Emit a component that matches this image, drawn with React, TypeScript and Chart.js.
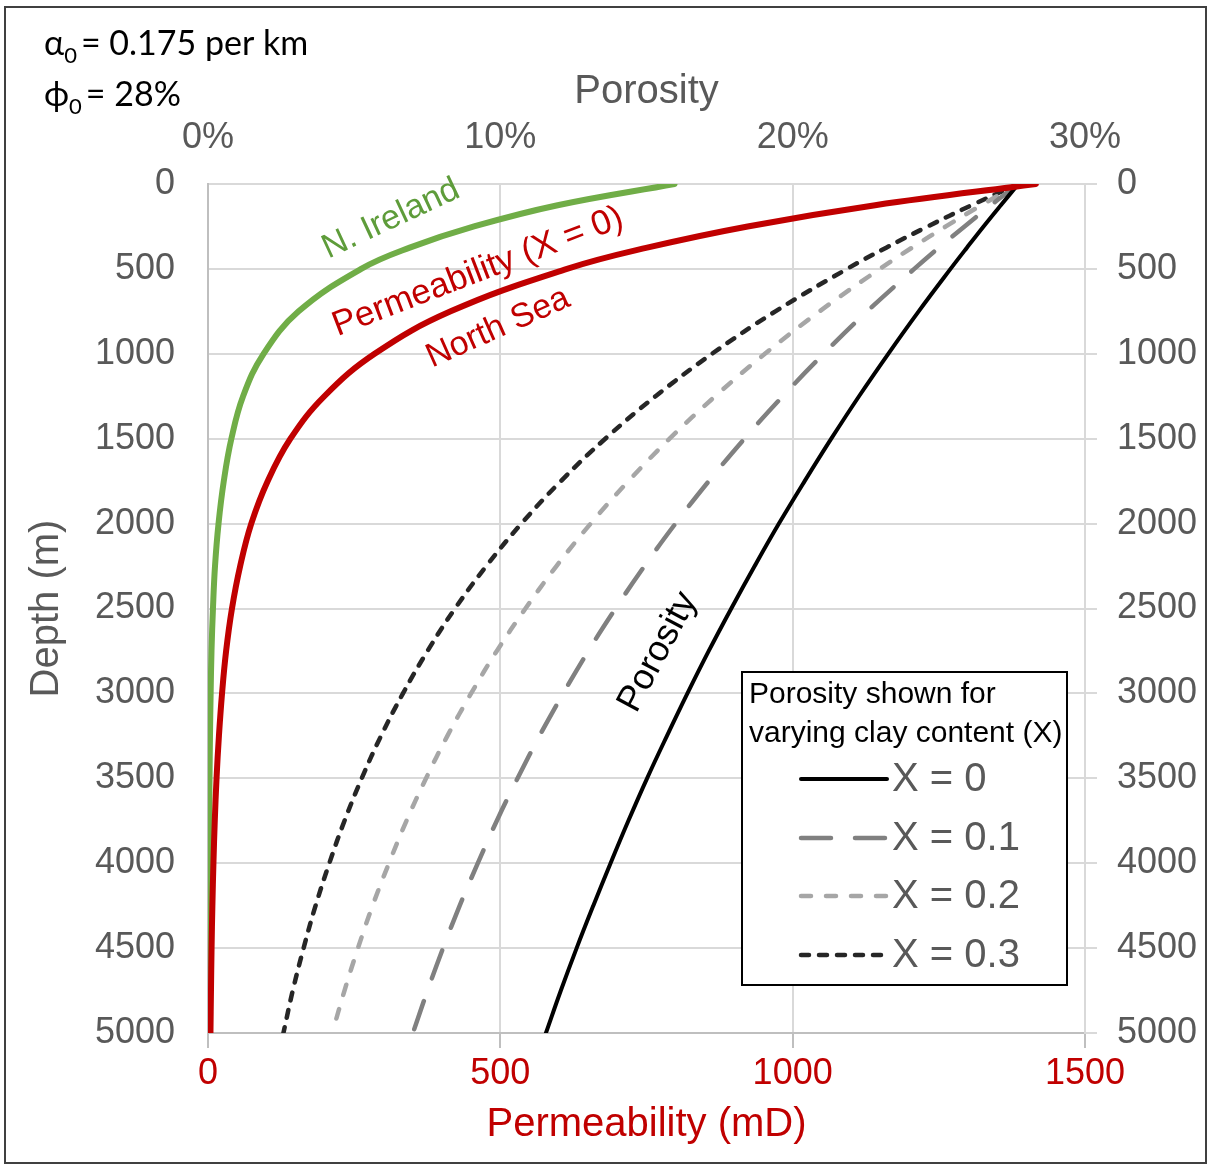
import React, { useEffect, useRef } from 'react';
import { Chart, registerables } from 'chart.js';

Chart.register(...registerables);

// Depth (m)
const DEPTHS = [0, 125, 250, 375, 500, 750, 1000, 1250, 1500, 1750, 2000, 2250, 2500, 2750, 3000, 3250, 3500, 3750, 4000, 4250, 4500, 4750, 5000];

// Permeability (mD), X = 0
const PERM_NORTH_SEA = [1416, 1141, 923, 751, 614, 415, 285, 199, 141, 102, 74, 55, 41, 31, 24, 18.7, 14.6, 11.6, 9.3, 7.5, 6.1, 5.1, 4.2];
const PERM_N_IRELAND = [798, 598, 455, 345, 262, 155, 95, 60, 40, 27, 18, 12, 8.5, 6, 4.5, 3.4, 2.6, 2.0, 1.5, 1.2, 0.9, 0.7, 0.5];

// Porosity (%) for clay content X
const POR_X0 = [27.72, 27.12, 26.53, 25.96, 25.4, 24.31, 23.27, 22.27, 21.32, 20.41, 19.53, 18.7, 17.9, 17.13, 16.4, 15.7, 15.02, 14.38, 13.77, 13.18, 12.61, 12.07, 11.56];
const POR_X01 = [27.72, 26.78, 25.88, 25.0, 24.16, 22.55, 21.06, 19.66, 18.35, 17.13, 15.99, 14.93, 13.94, 13.01, 12.15, 11.34, 10.59, 9.88, 9.23, 8.61, 8.04, 7.51, 7.01];
const POR_X02 = [27.72, 26.45, 25.24, 24.08, 22.98, 20.92, 19.05, 17.35, 15.79, 14.38, 13.09, 11.92, 10.86, 9.88, 9.0, 8.19, 7.46, 6.79, 6.19, 5.63, 5.13, 4.67, 4.25];
const POR_X03 = [27.72, 26.12, 24.62, 23.2, 21.86, 19.41, 17.24, 15.31, 13.59, 12.07, 10.72, 9.52, 8.45, 7.51, 6.67, 5.92, 5.26, 4.67, 4.15, 3.68, 3.27, 2.9, 2.58];

const LEGEND_LABELS = ['X = 0', 'X = 0.1', 'X = 0.2', 'X = 0.3'];

const RED = '#c00000';
const GREEN = '#70ad47';
const GRID = '#d9d9d9';
const AXIS = '#bfbfbf';
const TXT = '#595959';
const FONT = "'Liberation Sans', Arial, sans-serif";

const pts = (vals: number[]) => vals.map((v, i) => ({ x: v, y: DEPTHS[i] }));

function rotText(ctx: CanvasRenderingContext2D, text: string, x: number, y: number, deg: number, font: string, color: string) {
  ctx.save();
  ctx.translate(x, y);
  ctx.rotate((deg * Math.PI) / 180);
  ctx.font = font;
  ctx.fillStyle = color;
  ctx.textAlign = 'center';
  ctx.textBaseline = 'middle';
  ctx.fillText(text, 0, 0);
  ctx.restore();
}

const annotPlugin = {
  id: 'annot',
  afterDraw(chart: any) {
    const ctx: CanvasRenderingContext2D = chart.ctx;
    ctx.save();
    // outer frame
    ctx.strokeStyle = '#404040';
    ctx.lineWidth = 2;
    ctx.strokeRect(5, 7, 1201, 1156);

    // top-left parameters
    const big = "34px Lato, 'Noto Sans', sans-serif";
    const small = "22px Lato, 'Noto Sans', sans-serif";
    ctx.fillStyle = '#000';
    ctx.textBaseline = 'alphabetic';
    ctx.textAlign = 'left';
    ctx.font = big;
    ctx.fillText('α', 44, 55);
    let w = ctx.measureText('α').width;
    ctx.font = small;
    ctx.fillText('0', 44 + w, 63);
    let w2 = ctx.measureText('0').width;
    ctx.font = big;
    ctx.fillText('= 0.175 per km', 44 + w + w2 + 4, 55);

    ctx.fillText('ϕ', 44, 106);
    w = ctx.measureText('ϕ').width;
    ctx.font = small;
    ctx.fillText('0', 44 + w, 114);
    w2 = ctx.measureText('0').width;
    ctx.font = big;
    ctx.fillText('= 28%', 44 + w + w2 + 4, 106);

    // curve labels
    rotText(ctx, 'N. Ireland', 391, 219, -25, `34px ${FONT}`, '#5e9c3a');
    rotText(ctx, 'Permeability (X = 0)', 478, 272, -21, `35px ${FONT}`, RED);
    rotText(ctx, 'North Sea', 498, 328, -24, `34px ${FONT}`, RED);
    rotText(ctx, 'Porosity', 658, 652, -62, `36px ${FONT}`, '#000');

    // legend box
    const bx = 742, by = 672, bw = 325, bh = 313;
    ctx.fillStyle = '#fff';
    ctx.fillRect(bx, by, bw, bh);
    ctx.strokeStyle = '#000';
    ctx.lineWidth = 2;
    ctx.strokeRect(bx, by, bw, bh);
    ctx.fillStyle = '#000';
    ctx.font = `30px ${FONT}`;
    ctx.textAlign = 'left';
    ctx.textBaseline = 'middle';
    ctx.fillText('Porosity shown for', 749, 695);
    ctx.fillText('varying clay content (X)', 749, 734);

    const rows = [779, 838, 896, 955];
    const dsIdx = [2, 3, 4, 5];
    dsIdx.forEach((di, i) => {
      const ds = chart.data.datasets[di];
      ctx.save();
      ctx.strokeStyle = ds.borderColor;
      ctx.lineWidth = ds.borderWidth;
      ctx.lineCap = ds.borderCapStyle || 'butt';
      ctx.setLineDash(ds.borderDash || []);
      ctx.beginPath();
      ctx.moveTo(801, rows[i]);
      ctx.lineTo(887, rows[i]);
      ctx.stroke();
      ctx.restore();
      ctx.fillStyle = TXT;
      ctx.font = `40px ${FONT}`;
      ctx.textAlign = 'left';
      ctx.textBaseline = 'middle';
      ctx.fillText(LEGEND_LABELS[i], 892, rows[i] + 1);
    });
    ctx.restore();
  },
};

export default function App() {
  const ref = useRef<HTMLCanvasElement>(null);

  useEffect(() => {
    const canvas = ref.current;
    if (!canvas) return;
    Chart.defaults.font.family = FONT;

    const chart = new Chart(canvas, {
      type: 'line',
      data: {
        datasets: [
          {
            label: 'Permeability North Sea',
            data: pts(PERM_NORTH_SEA),
            xAxisID: 'x',
            yAxisID: 'y',
            borderColor: RED,
            borderWidth: 6,
            borderCapStyle: 'round',
            pointRadius: 0,
            tension: 0.4,
          },
          {
            label: 'Permeability N. Ireland',
            data: pts(PERM_N_IRELAND),
            xAxisID: 'x',
            yAxisID: 'y',
            borderColor: GREEN,
            borderWidth: 6,
            borderCapStyle: 'round',
            pointRadius: 0,
            tension: 0.4,
          },
          {
            label: LEGEND_LABELS[0],
            data: pts(POR_X0),
            xAxisID: 'x2',
            yAxisID: 'y',
            borderColor: '#000000',
            borderWidth: 4,
            borderCapStyle: 'round',
            pointRadius: 0,
            tension: 0.4,
          },
          {
            label: LEGEND_LABELS[1],
            data: pts(POR_X01),
            xAxisID: 'x2',
            yAxisID: 'y',
            borderColor: '#808080',
            borderWidth: 4.5,
            borderDash: [30, 24],
            borderCapStyle: 'round',
            pointRadius: 0,
            tension: 0.4,
          },
          {
            label: LEGEND_LABELS[2],
            data: pts(POR_X02),
            xAxisID: 'x2',
            yAxisID: 'y',
            borderColor: '#a6a6a6',
            borderWidth: 4.5,
            borderDash: [10, 15],
            borderCapStyle: 'round',
            pointRadius: 0,
            tension: 0.4,
          },
          {
            label: LEGEND_LABELS[3],
            data: pts(POR_X03),
            xAxisID: 'x2',
            yAxisID: 'y',
            borderColor: '#262626',
            borderWidth: 4.5,
            borderDash: [8, 10],
            borderCapStyle: 'round',
            pointRadius: 0,
            tension: 0.4,
          },
        ],
      },
      options: {
        responsive: false,
        animation: false,
        devicePixelRatio: 1,
        layout: { padding: 0 },
        plugins: {
          legend: { display: false },
          tooltip: { enabled: false },
          title: { display: false },
        },
        scales: {
          x: {
            type: 'linear',
            position: 'bottom',
            min: 0,
            max: 1500,
            ticks: { stepSize: 500, color: RED, font: { size: 36 }, padding: 4, maxRotation: 0, callback: (v: any) => String(v) },
            grid: { color: GRID, lineWidth: 2, drawTicks: true, tickLength: 15, tickColor: AXIS, tickWidth: 2 },
            border: { color: AXIS, width: 2 },
            title: { display: true, text: 'Permeability (mD)', color: RED, font: { size: 40 }, padding: { top: 0, bottom: 18 } },
            afterFit: (s: any) => { s.height = 134; },
          },
          x2: {
            type: 'linear',
            position: 'top',
            min: 0,
            max: 30,
            ticks: { stepSize: 10, color: TXT, font: { size: 36 }, padding: 16, maxRotation: 0, callback: (v: any) => `${v}%` },
            grid: { display: false },
            border: { display: false },
            title: { display: true, text: 'Porosity', color: TXT, font: { size: 40 }, padding: { top: 68, bottom: 0 } },
            afterFit: (s: any) => { s.height = 184; },
          },
          y: {
            type: 'linear',
            position: 'left',
            reverse: true,
            min: 0,
            max: 5000,
            ticks: { stepSize: 500, color: TXT, font: { size: 36 }, padding: 33, callback: (v: any) => String(v) },
            grid: { color: GRID, lineWidth: 2, drawTicks: false },
            border: { color: AXIS, width: 2 },
            title: { display: true, text: 'Depth (m)', color: TXT, font: { size: 40 }, padding: { top: 23, bottom: 0 } },
            afterFit: (s: any) => { s.width = 208; },
          },
          y2: {
            type: 'linear',
            position: 'right',
            reverse: true,
            min: 0,
            max: 5000,
            ticks: { stepSize: 500, color: TXT, font: { size: 36 }, padding: 20, callback: (v: any) => String(v) },
            grid: { drawOnChartArea: false, drawTicks: true, tickLength: 12, color: GRID, lineWidth: 2 },
            border: { display: true, color: GRID, width: 2 },
            afterFit: (s: any) => { s.width = 124; },
          },
        },
      } as any,
      plugins: [annotPlugin],
    });

    return () => chart.destroy();
  }, []);

  return (
    <div style={{ position: 'absolute', left: 0, top: 0, width: 1209, height: 1167, background: '#ffffff' }}>
      <canvas ref={ref} width={1209} height={1167} style={{ display: 'block', width: '1209px', height: '1167px' }} />
    </div>
  );
}
